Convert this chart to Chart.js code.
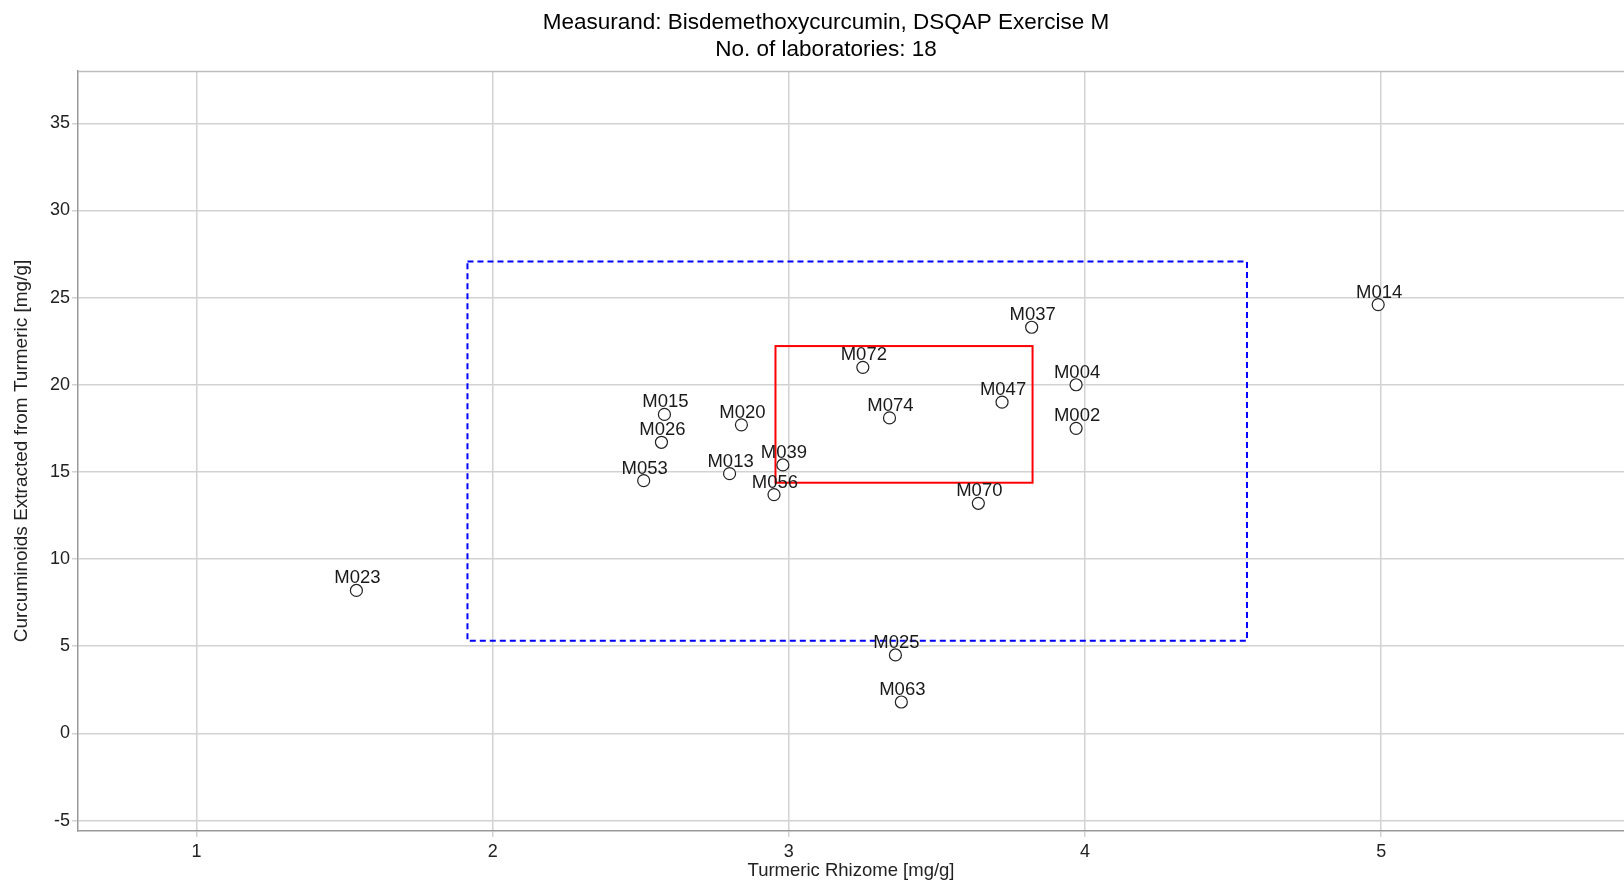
<!DOCTYPE html>
<html>
<head>
<meta charset="utf-8">
<title>Bisdemethoxycurcumin, DSQAP Exercise M</title>
<script src="https://cdn.jsdelivr.net/npm/chart.js@4.4.1/dist/chart.umd.min.js"></script>
<style>
  html, body { margin: 0; padding: 0; background: #fff; overflow: hidden; }
  #wrap { width: 1624px; height: 882px; }
</style>
</head>
<body>
<div id="wrap"><canvas id="c" width="1624" height="882"></canvas></div>
<script>
// Laboratory results: rhizome (x) vs. extract (y), both in mg/g
const labCodes = ['M002','M004','M013','M014','M015','M020','M023','M025','M026',
                  'M037','M039','M047','M053','M056','M063','M070','M072','M074'];
const rhizome   = [3.97, 3.97, 2.80, 4.99, 2.58, 2.84, 1.54, 3.36, 2.57,
                   3.82, 2.98, 3.72, 2.51, 2.95, 3.38, 3.64, 3.25, 3.34];
const extracted = [17.5, 20.0, 14.9, 24.6, 18.3, 17.7, 8.2, 4.5, 16.7,
                   23.3, 15.4, 19.0, 14.5, 13.7, 1.8, 13.2, 21.0, 18.1];

// Axis ticks
const xTicks = [1, 2, 3, 4, 5];
const yTicks = [-5, 0, 5, 10, 15, 20, 25, 30, 35];

// Consensus region (solid red) and tolerance region (dashed blue), [low, high]
const innerBoxX = [2.955, 3.823];
const innerBoxY = [14.38, 22.22];
const outerBoxX = [1.915, 4.547];
const outerBoxY = [5.31, 27.07];

const titleLines = ['Measurand: Bisdemethoxycurcumin, DSQAP Exercise M', 'No. of laboratories: 18'];

const FONT = '"Liberation Sans", Arial, Helvetica, sans-serif';

const points = labCodes.map((c, i) => ({ x: rhizome[i], y: extracted[i] }));

// Two-line heading above the plot
const headingPlugin = {
  id: 'heading',
  afterDraw(chart) {
    const { ctx } = chart;
    ctx.save();
    ctx.font = '22.5px ' + FONT;
    ctx.fillStyle = '#000';
    ctx.textAlign = 'center';
    ctx.textBaseline = 'middle';
    titleLines.forEach((t, i) => ctx.fillText(t, 826, 23 + i * 26.5));
    ctx.restore();
  }
};

// Rectangles and the top frame line, drawn in data space through the scales
const regionPlugin = {
  id: 'regions',
  beforeDatasetsDraw(chart) {
    const { ctx, chartArea, scales: { x, y } } = chart;
    ctx.save();
    ctx.strokeStyle = '#bdbdbd';
    ctx.lineWidth = 1.5;
    ctx.beginPath();
    ctx.moveTo(chartArea.left, chartArea.top + 0.5);
    ctx.lineTo(chartArea.right, chartArea.top + 0.5);
    ctx.stroke();

    const box = (bx, by, color, dash) => {
      const x0 = x.getPixelForValue(bx[0]), x1 = x.getPixelForValue(bx[1]);
      const y0 = y.getPixelForValue(by[1]), y1 = y.getPixelForValue(by[0]);
      ctx.strokeStyle = color;
      ctx.lineWidth = 2;
      ctx.setLineDash(dash);
      ctx.strokeRect(x0, y0, x1 - x0, y1 - y0);
    };
    box(outerBoxX, outerBoxY, '#0000ff', [6, 4]);
    box(innerBoxX, innerBoxY, '#ff0000', []);
    ctx.restore();
  }
};

// Laboratory code above each marker
const labelPlugin = {
  id: 'pointLabels',
  afterDatasetsDraw(chart) {
    const { ctx } = chart;
    const meta = chart.getDatasetMeta(0);
    ctx.save();
    ctx.font = '18.5px ' + FONT;
    ctx.fillStyle = '#1a1a1a';
    ctx.textAlign = 'center';
    ctx.textBaseline = 'alphabetic';
    meta.data.forEach((el, i) => {
      ctx.fillText(labCodes[i], el.x + 1, el.y - 7);
    });
    ctx.restore();
  }
};

const noEdgePadding = s => { s.paddingLeft = 0; s.paddingRight = 0; s.paddingTop = 0; s.paddingBottom = 0; };

new Chart(document.getElementById('c'), {
  type: 'scatter',
  data: {
    datasets: [{
      data: points,
      pointStyle: 'circle',
      pointRadius: 6,
      pointHoverRadius: 6,
      borderWidth: 1.2,
      borderColor: '#222',
      backgroundColor: '#ffffff'
    }]
  },
  options: {
    responsive: false,
    animation: false,
    devicePixelRatio: 1,
    layout: { autoPadding: false, padding: { top: 71, left: 0, bottom: 0, right: 0 } },
    plugins: {
      legend: { display: false },
      tooltip: { enabled: false },
      title: { display: false }
    },
    scales: {
      x: {
        type: 'linear',
        min: 0.6,
        max: 5.82,
        afterBuildTicks: s => { s.ticks = xTicks.map(v => ({ value: v })); },
        afterFit: s => { s.height = 51; noEdgePadding(s); },
        ticks: {
          includeBounds: false,
          color: '#222',
          padding: 4,
          font: { family: FONT, size: 18 },
          callback: v => String(v)
        },
        grid: { color: '#d2d2d2', lineWidth: 1.5, tickLength: 6, tickColor: '#d2d2d2' },
        border: { color: '#999', width: 1.5 },
        title: {
          display: true,
          text: 'Turmeric Rhizome [mg/g]',
          color: '#222',
          font: { family: FONT, size: 18.5 },
          padding: { top: 0, bottom: 0 }
        }
      },
      y: {
        type: 'linear',
        min: -5.6,
        max: 38,
        afterBuildTicks: s => { s.ticks = yTicks.map(v => ({ value: v })); },
        afterFit: s => { s.width = 78; noEdgePadding(s); },
        ticks: {
          includeBounds: false,
          color: '#222',
          padding: 2,
          font: { family: FONT, size: 18 },
          callback: v => String(v)
        },
        grid: { color: '#d2d2d2', lineWidth: 1.5, tickLength: 6, tickColor: '#d2d2d2' },
        border: { color: '#999', width: 1.5 },
        title: {
          display: true,
          text: 'Curcuminoids Extracted from Turmeric [mg/g]',
          color: '#222',
          font: { family: FONT, size: 19 },
          padding: { top: 10, bottom: 0 }
        }
      }
    }
  },
  plugins: [regionPlugin, labelPlugin, headingPlugin]
});
</script>
</body>
</html>
